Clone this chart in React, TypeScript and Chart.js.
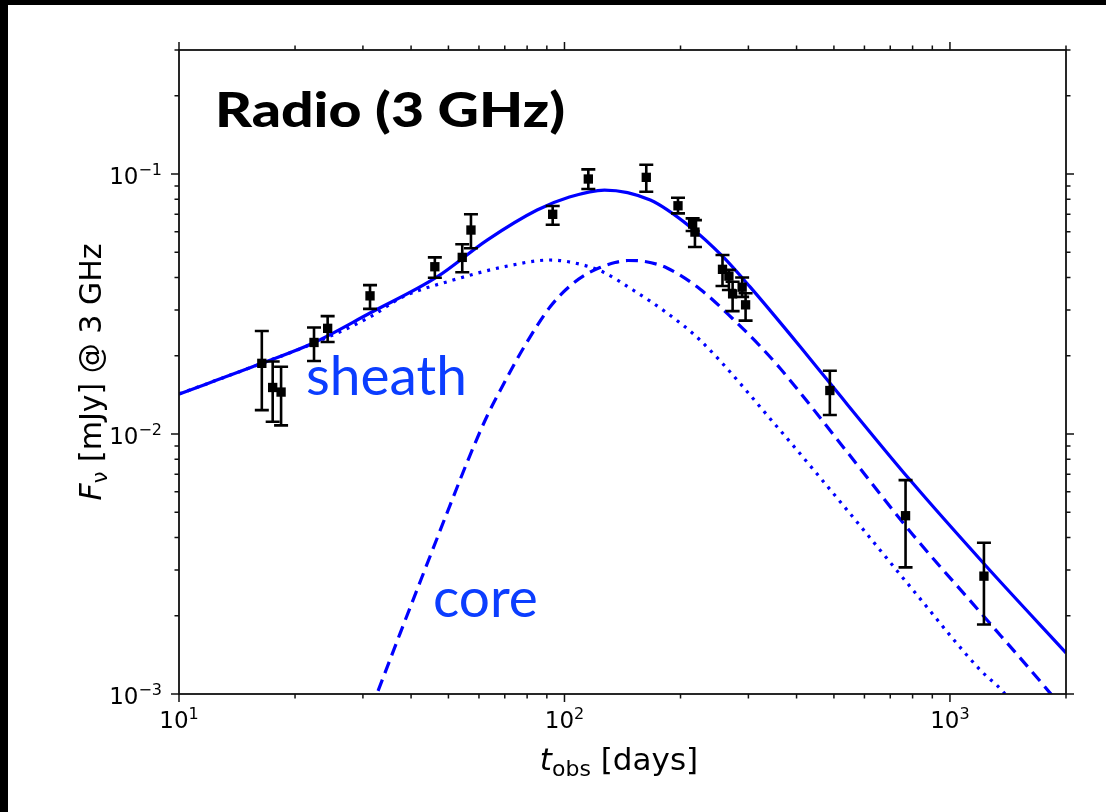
import React, { useEffect, useRef } from "react";
import { Chart, registerables } from "chart.js";
Chart.register(...registerables);

// ---------- axis ranges & ticks ----------
const X_MIN = 10;
const X_MAX = 2000;
const Y_MIN = 0.001;
const Y_MAX = 0.3;
const xMajorTicks = [10, 100, 1000];
const xTickExp = ["1", "2", "3"];
const xMinorTicks = [20, 30, 40, 50, 60, 70, 80, 90, 200, 300, 400, 500, 600, 700, 800, 900, 2000];
const yMajorTicks = [0.001, 0.01, 0.1];
const yTickExp = ["\u22123", "\u22122", "\u22121"];
const yMinorTicks = [0.002, 0.003, 0.004, 0.005, 0.006, 0.007, 0.008, 0.009, 0.02, 0.03, 0.04, 0.05, 0.06, 0.07, 0.08, 0.09, 0.2, 0.3];

// ---------- observed data (days, mJy) ----------
const obsDays = [16.4, 17.5, 18.4, 22.4, 24.3, 31.3, 46.1, 54.3, 57.2, 93.2, 115.3, 163, 197, 215, 218, 257, 267, 273, 289, 295, 488, 767, 1225];
const obsFlux = [0.0187, 0.0151, 0.0145, 0.0225, 0.0255, 0.034, 0.044, 0.0478, 0.0609, 0.07, 0.0957, 0.0971, 0.0755, 0.0642, 0.0598, 0.043, 0.0405, 0.0346, 0.0367, 0.0314, 0.0147, 0.00485, 0.00284];
const obsLow = [0.01236, 0.01115, 0.0108, 0.0191, 0.0226, 0.0303, 0.0399, 0.0419, 0.0518, 0.0638, 0.0876, 0.0855, 0.0706, 0.0604, 0.0524, 0.0371, 0.0358, 0.0297, 0.0337, 0.0273, 0.01184, 0.00307, 0.00185];
const obsHigh = [0.0249, 0.019, 0.01815, 0.0257, 0.0284, 0.0374, 0.0478, 0.0537, 0.07, 0.0753, 0.1042, 0.1086, 0.0811, 0.0675, 0.0665, 0.0488, 0.0428, 0.0385, 0.04, 0.0348, 0.01752, 0.00665, 0.00382];

// ---------- model curves ----------
const totalDays = [10, 16.4, 22.3, 31.3, 46.7, 63, 84.9, 103, 127, 167, 212, 258, 303, 416, 488, 788, 1247, 2000];
const totalFlux = [0.01425, 0.0187, 0.0224, 0.0292, 0.0402, 0.0557, 0.0727, 0.0816, 0.0868, 0.0794, 0.0626, 0.048, 0.0368, 0.021, 0.0157, 0.00665, 0.00308, 0.00144];

const sheathDays = [10, 16.4, 22.3, 31.3, 38.1, 51.4, 69.3, 91.7, 111.7, 125.9, 150.6, 184.5, 224.6, 362, 541, 802, 1196, 1373, 1500];
const sheathFlux = [0.01425, 0.0187, 0.0223, 0.0282, 0.0337, 0.0391, 0.0439, 0.0467, 0.0447, 0.042, 0.0358, 0.0292, 0.023, 0.01036, 0.0051, 0.00251, 0.00124, 0.00102, 0.00085];

const coreDays = [31.5, 32.6, 37.4, 43.5, 50.5, 56.9, 63.0, 69.3, 78.0, 91.7, 103.3, 113.0, 123.6, 135.2, 146.1, 161.8, 184.5, 224.6, 273.6, 321.5, 362, 541, 802, 1196, 1817, 1900];
const coreFlux = [0.00088, 0.001, 0.0017, 0.003025, 0.00533, 0.0083, 0.01173, 0.01543, 0.02123, 0.03079, 0.03709, 0.04088, 0.04369, 0.04567, 0.04649, 0.04608, 0.04351, 0.03612, 0.0277, 0.0218, 0.01794, 0.00853, 0.00409, 0.00207, 0.00101, 0.00093];

const CURVE_BLUE = "#0000ff";
const TEXT_BLUE = "#0b3dff";
const TICK_FONT = "DejaVu Sans";

const toPts = (xs: number[], ys: number[]) => xs.map((x, i) => ({ x, y: ys[i] }));

const decorPlugin = {
  id: "decor",
  beforeDraw(chart: any) {
    const ctx = chart.ctx;
    ctx.save();
    ctx.fillStyle = "#ffffff";
    ctx.fillRect(0, 0, chart.width, chart.height);
    ctx.restore();
  },
  afterDatasetsDraw(chart: any) {
    const ctx = chart.ctx;
    const xs = chart.scales.x;
    const ys = chart.scales.y;
    ctx.save();
    ctx.strokeStyle = "#000";
    ctx.lineWidth = 2.6;
    const cap = 7;
    obsDays.forEach((d, i) => {
      const px = xs.getPixelForValue(d);
      const y1 = ys.getPixelForValue(obsLow[i]);
      const y2 = ys.getPixelForValue(obsHigh[i]);
      ctx.beginPath();
      ctx.moveTo(px, y1);
      ctx.lineTo(px, y2);
      ctx.moveTo(px - cap, y1);
      ctx.lineTo(px + cap, y1);
      ctx.moveTo(px - cap, y2);
      ctx.lineTo(px + cap, y2);
      ctx.stroke();
    });
    ctx.restore();
  },
  afterDraw(chart: any) {
    const ctx = chart.ctx;
    const a = chart.chartArea;
    const xs = chart.scales.x;
    const ys = chart.scales.y;
    ctx.save();
    // spines
    ctx.strokeStyle = "#111";
    ctx.lineWidth = 1.8;
    ctx.strokeRect(a.left, a.top, a.right - a.left, a.bottom - a.top);
    // ticks (outward on all four sides)
    const tick = (vals: number[], len: number) => {
      vals.forEach((v) => {
        const px = xs.getPixelForValue(v);
        ctx.beginPath();
        ctx.moveTo(px, a.bottom);
        ctx.lineTo(px, a.bottom + len);
        ctx.moveTo(px, a.top);
        ctx.lineTo(px, a.top - len);
        ctx.stroke();
      });
    };
    const ytick = (vals: number[], len: number) => {
      vals.forEach((v) => {
        const py = ys.getPixelForValue(v);
        ctx.beginPath();
        ctx.moveTo(a.left, py);
        ctx.lineTo(a.left - len, py);
        ctx.moveTo(a.right, py);
        ctx.lineTo(a.right + len, py);
        ctx.stroke();
      });
    };
    ctx.lineWidth = 1.5;
    tick(xMajorTicks, 8);
    tick(xMinorTicks, 4.5);
    ytick(yMajorTicks, 8);
    ytick(yMinorTicks, 4.5);

    // tick labels: "10" with superscript exponent
    ctx.fillStyle = "#000";
    ctx.textBaseline = "alphabetic";
    ctx.textAlign = "left";
    const baseFont = `23px ${TICK_FONT}`;
    const supFont = `16px ${TICK_FONT}`;
    const labelWidth = (exp: string) => {
      ctx.font = baseFont;
      const w1 = ctx.measureText("10").width;
      ctx.font = supFont;
      return [w1, ctx.measureText(exp).width];
    };
    const drawLabel = (exp: string, x: number, base: number) => {
      const [w1] = labelWidth(exp);
      ctx.font = baseFont;
      ctx.fillText("10", x, base);
      ctx.font = supFont;
      ctx.fillText(exp, x + w1, base - 9.5);
    };
    xMajorTicks.forEach((v, i) => {
      const px = xs.getPixelForValue(v);
      const [w1, w2] = labelWidth(xTickExp[i]);
      drawLabel(xTickExp[i], px - (w1 + w2) / 2, a.bottom + 34);
    });
    yMajorTicks.forEach((v, i) => {
      const py = ys.getPixelForValue(v);
      const [w1, w2] = labelWidth(yTickExp[i]);
      drawLabel(yTickExp[i], a.left - 17 - (w1 + w2), py + 10);
    });

    // annotation texts
    ctx.fillStyle = "#000";
    ctx.font = "900 48px Lato";
    const title = "Radio (3 GHz)";
    const tw = ctx.measureText(title).width;
    ctx.save();
    ctx.translate(215, 127);
    ctx.scale(350 / tw, 1);
    ctx.fillText(title, 0, 0);
    ctx.restore();
    ctx.fillStyle = TEXT_BLUE;
    ctx.font = "400 55px Lato";
    ctx.fillText("sheath", 306, 395);
    ctx.fillText("core", 433, 617);

    // axis titles with sub-scripts
    const drawPieces = (pieces: { t: string; f: string; dy: number }[], cx: number, cy: number, rot: number) => {
      ctx.save();
      ctx.translate(cx, cy);
      ctx.rotate(rot);
      let w = 0;
      pieces.forEach((p) => {
        ctx.font = p.f;
        w += ctx.measureText(p.t).width;
      });
      let x = -w / 2;
      ctx.fillStyle = "#000";
      pieces.forEach((p) => {
        ctx.font = p.f;
        ctx.fillText(p.t, x, p.dy);
        x += ctx.measureText(p.t).width;
      });
      ctx.restore();
    };
    drawPieces(
      [
        { t: "t", f: `oblique 31px ${TICK_FONT}`, dy: 0 },
        { t: "obs", f: `22px ${TICK_FONT}`, dy: 6 },
        { t: " [days]", f: `31px ${TICK_FONT}`, dy: 0 },
      ],
      619,
      770,
      0
    );
    drawPieces(
      [
        { t: "F", f: `oblique 30px ${TICK_FONT}`, dy: 0 },
        { t: "\u03bd", f: `21px ${TICK_FONT}`, dy: 6 },
        { t: " [mJy] @ 3 GHz", f: `30px ${TICK_FONT}`, dy: 0 },
      ],
      101,
      372,
      -Math.PI / 2
    );
    ctx.restore();
  },
};

export default function App() {
  const ref = useRef<HTMLCanvasElement>(null);
  useEffect(() => {
    const canvas = ref.current!;
    const chart = new Chart(canvas, {
      type: "scatter",
      data: {
        datasets: [
          {
            label: "data",
            data: toPts(obsDays, obsFlux),
            pointStyle: "rect",
            pointRadius: 6.6,
            backgroundColor: "#000",
            borderColor: "#000",
            borderWidth: 0,
            showLine: false,
          },
          {
            label: "total",
            data: toPts(totalDays, totalFlux),
            showLine: true,
            borderColor: CURVE_BLUE,
            borderWidth: 3.2,
            pointRadius: 0,
            cubicInterpolationMode: "monotone",
          },
          {
            label: "sheath",
            data: toPts(sheathDays, sheathFlux),
            showLine: true,
            borderColor: CURVE_BLUE,
            borderWidth: 3.2,
            borderDash: [3, 6],
            pointRadius: 0,
            cubicInterpolationMode: "monotone",
          },
          {
            label: "core",
            data: toPts(coreDays, coreFlux),
            showLine: true,
            borderColor: CURVE_BLUE,
            borderWidth: 3.2,
            borderDash: [12, 7],
            pointRadius: 0,
            cubicInterpolationMode: "monotone",
          },
        ],
      } as any,
      options: {
        animation: false,
        responsive: false,
        devicePixelRatio: 1,
        layout: { padding: { top: 50, right: 40, left: 0, bottom: 0 } },
        plugins: { legend: { display: false }, tooltip: { enabled: false } },
        scales: {
          x: {
            type: "logarithmic",
            min: X_MIN,
            max: X_MAX,
            afterFit: (s: any) => {
              s.height = 118;
            },
            afterBuildTicks: (s: any) => {
              s.ticks = xMajorTicks.map((v) => ({ value: v }));
            },
            grid: { display: false, drawTicks: false },
            border: { display: false },
            ticks: { display: false },
          },
          y: {
            type: "logarithmic",
            min: Y_MIN,
            max: Y_MAX,
            afterFit: (s: any) => {
              s.width = 179;
            },
            afterBuildTicks: (s: any) => {
              s.ticks = yMajorTicks.map((v) => ({ value: v }));
            },
            grid: { display: false, drawTicks: false },
            border: { display: false },
            ticks: { display: false },
          },
        },
      } as any,
      plugins: [decorPlugin],
    });
    return () => chart.destroy();
  }, []);
  return (
    <div style={{ position: "fixed", left: 0, top: 0, width: 1106, height: 812, background: "#fff", overflow: "hidden" }}>
      <canvas ref={ref} width={1106} height={812} style={{ position: "absolute", left: 0, top: 0 }} />
      <div style={{ position: "absolute", left: 0, top: 0, width: 8, height: 812, background: "#000" }} />
      <div style={{ position: "absolute", left: 0, top: 0, width: 1106, height: 5, background: "#000" }} />
    </div>
  );
}
